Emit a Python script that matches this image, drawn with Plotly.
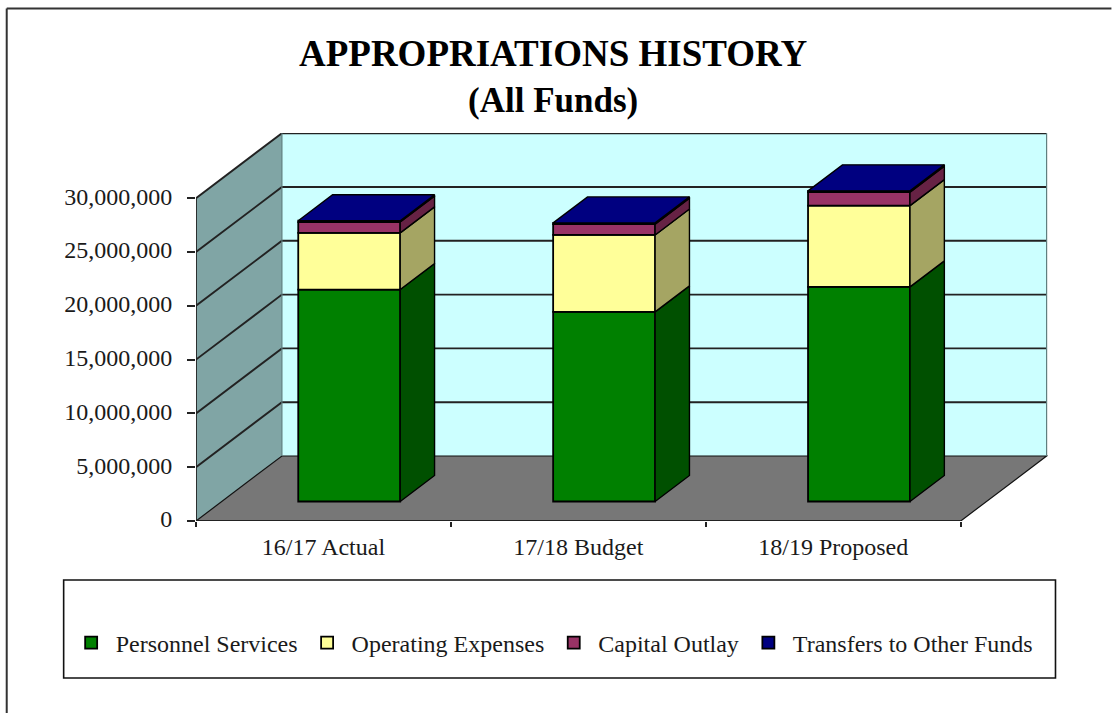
import plotly.graph_objects as go

# ---------- data ----------
categories = ["16/17 Actual", "17/18 Budget", "18/19 Proposed"]
personnel = [19700000, 17620000, 19950000]
operating = [5270000, 7150000, 7550000]
capital = [1000000, 1000000, 1250000]
transfers = [120000, 120000, 120000]
y_ticks = [0, 5000000, 10000000, 15000000, 20000000, 25000000, 30000000]
y_labels = ["0", "5,000,000", "10,000,000", "15,000,000", "20,000,000", "25,000,000", "30,000,000"]

series = [
    ("Personnel Services", personnel, "#008000", "#005000"),
    ("Operating Expenses", operating, "#FFFF99", "#A5A563"),
    ("Capital Outlay", capital, "#993366", "#662244"),
    ("Transfers to Other Funds", transfers, "#000080", "#000050"),
]

# ---------- geometry ----------
W, H = 1112, 713
L, R, T, B = 195.5, 1048.5, 133, 521
UNIT_X = 255.2
UNIT_Y = 53.8 / 5000000
DX = 86 / UNIT_X            # depth of the floor, in category units
DY = 65 / UNIT_Y            # depth of the floor, in value units
BAR_W = 0.4
N = len(categories)
FONT = "Liberation Serif"
TEXT = "#1a1a1a"


def px(x):
    return (x - L) / (R - L)


def py(y):
    return (B - y) / (B - T)


def poly(points):
    return "M" + " L".join(f"{a},{b}" for a, b in points) + " Z"


fig = go.Figure()

# ---------- walls and floor ----------
top = y_ticks[-1]
shapes = [
    dict(type="path", layer="below", xref="x", yref="y", fillcolor="#CCFFFF", line=dict(width=0),
         path=poly([(DX, DY), (DX + N, DY), (DX + N, DY + top), (DX, DY + top)])),
    dict(type="path", layer="below", xref="x", yref="y", fillcolor="#80A5A5", line=dict(width=0),
         path=poly([(0, 0), (DX, DY), (DX, DY + top), (0, top)])),
    dict(type="path", layer="below", xref="x", yref="y", fillcolor="#777777",
         line=dict(color="#111111", width=1.2),
         path=poly([(0, 0), (N, 0), (N + DX, DY), (DX, DY)])),
]
for v in y_ticks[1:]:
    shapes.append(dict(type="path", layer="below", xref="x", yref="y",
                       line=dict(color="#222222", width=1.9),
                       path=f"M0,{v} L{DX},{v + DY} L{DX + N},{v + DY}"))
shapes.append(dict(type="line", layer="below", xref="x", yref="y", x0=DX, x1=DX, y0=DY, y1=DY + top,
                   line=dict(color="#5f7f7f", width=1.2)))
shapes.append(dict(type="line", layer="below", xref="x", yref="y", x0=DX + N, x1=DX + N, y0=DY, y1=DY + top,
                   line=dict(color="#5f7f7f", width=1.2)))
# front axis lines
shapes.append(dict(type="line", xref="x", yref="y", x0=0, x1=0, y0=0, y1=top,
                   line=dict(color="#222222", width=1.8)))
shapes.append(dict(type="line", xref="x", yref="y", x0=0, x1=N, y0=0, y1=0,
                   line=dict(color="#222222", width=2)))
# legend box and page edges
shapes.append(dict(type="rect", xref="paper", yref="paper", x0=px(63), x1=px(1056), y0=py(678), y1=py(580),
                   line=dict(color="#111111", width=1.6)))
shapes.append(dict(type="line", xref="paper", yref="paper", x0=px(6), x1=px(1112), y0=py(8.5), y1=py(8.5),
                   line=dict(color="#333333", width=2)))
shapes.append(dict(type="line", xref="paper", yref="paper", x0=px(6), x1=px(6), y0=py(8.5), y1=py(713),
                   line=dict(color="#333333", width=2)))

# ---------- bars: front faces, then side and top faces ----------
centers = [i + 0.5 + 0.3 * DX for i in range(N)]
z0 = 0.3 * DY
dep_x = 0.4 * DX
dep_y = 0.4 * DY
base = [z0] * N
for name, vals, front, side in series:
    fig.add_trace(go.Bar(x=centers, y=vals, base=list(base), width=BAR_W, name=name,
                         marker=dict(color=front, line=dict(color="black", width=1.8)),
                         hoverinfo="name+y"))
    sx, sy = [], []
    for c, b, v in zip(centers, base, vals):
        r = c + BAR_W / 2
        sx += [r, r + dep_x, r + dep_x, r, r, None]
        sy += [b, b + dep_y, b + v + dep_y, b + v, b, None]
    fig.add_trace(go.Scatter(x=sx, y=sy, mode="lines", fill="toself", fillcolor=side,
                             line=dict(color="black", width=1.4), showlegend=False, hoverinfo="skip"))
    base = [b + v for b, v in zip(base, vals)]

tx, ty = [], []
for c, b in zip(centers, base):
    l, r = c - BAR_W / 2, c + BAR_W / 2
    tx += [l, r, r + dep_x, l + dep_x, l, None]
    ty += [b, b, b + dep_y, b + dep_y, b, None]
fig.add_trace(go.Scatter(x=tx, y=ty, mode="lines", fill="toself", fillcolor=series[-1][2],
                         line=dict(color="black", width=1.4), showlegend=False, hoverinfo="skip"))

# ---------- layout ----------
fig.update_layout(
    width=W, height=H, autosize=False,
    margin=dict(l=L, r=W - R, t=T, b=H - B, pad=0),
    paper_bgcolor="white", plot_bgcolor="rgba(0,0,0,0)",
    font=dict(family=FONT, color=TEXT, size=24),
    barmode="overlay",
    shapes=shapes,
    title=dict(
        text="<b>APPROPRIATIONS HISTORY</b>",
        x=px(553), xref="paper", xanchor="center",
        y=1 - 53 / H, yref="container", yanchor="middle",
        font=dict(family=FONT, size=37, color="black"),
    ),
    annotations=[dict(text="<b>(All Funds)</b>", xref="paper", yref="paper", x=px(553), y=py(100),
                      xanchor="center", yanchor="middle", showarrow=False,
                      font=dict(family=FONT, size=35, color="black"))],
    xaxis=dict(range=[0, (R - L) / UNIT_X], tickmode="array",
               tickvals=[i + 0.5 for i in range(N)], ticktext=categories,
               ticks="", showgrid=False, zeroline=False, showline=False,
               ticklabelstandoff=9,
               minor=dict(tickmode="array", tickvals=list(range(N + 1)), ticks="outside",
                          ticklen=5, tickcolor="#222222", tickwidth=1.5, showgrid=False),
               tickfont=dict(family=FONT, size=24, color=TEXT)),
    yaxis=dict(range=[0, (B - T) / UNIT_Y], tickmode="array", tickvals=y_ticks, ticktext=y_labels,
               ticks="outside", ticklen=8, tickcolor="#222222", tickwidth=1.5, ticklabelstandoff=10,
               ticklabelshift=-2,
               showgrid=False, zeroline=False, showline=False,
               tickfont=dict(family=FONT, size=24, color=TEXT)),
    legend=dict(orientation="h", x=px(66), xanchor="left", y=py(643), yanchor="middle",
                bgcolor="rgba(0,0,0,0)", borderwidth=0, traceorder="normal", itemwidth=39,
                font=dict(family=FONT, size=24, color=TEXT)),
)

fig.write_html("out.html", config=dict(displayModeBar=False),
               post_script="document.body.style.margin='0';document.documentElement.style.overflow='hidden';")
